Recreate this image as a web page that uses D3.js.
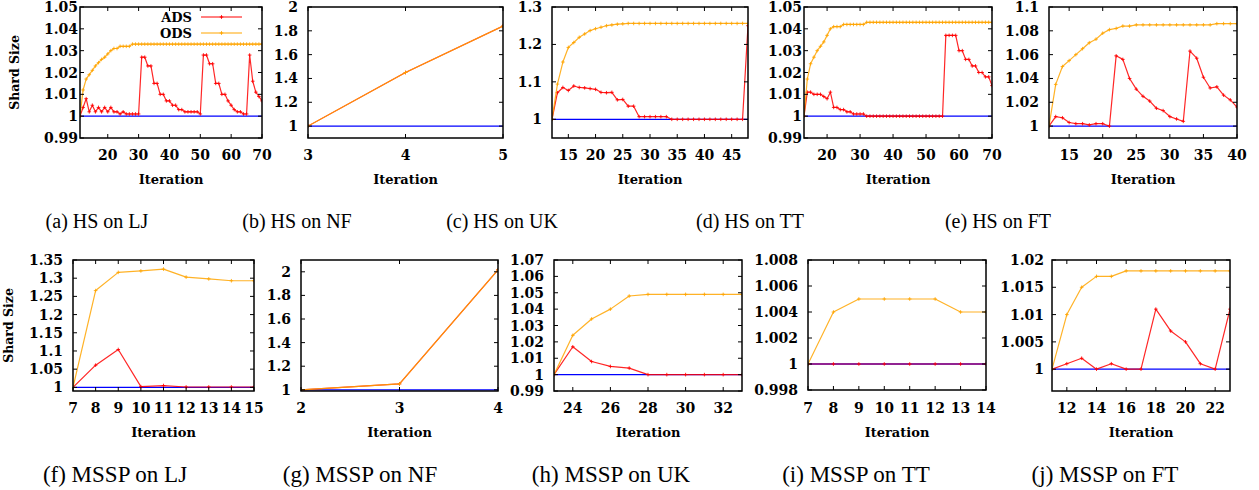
<!DOCTYPE html>
<html><head><meta charset="utf-8">
<script src="https://cdn.jsdelivr.net/npm/d3@7"></script>
<style>body{margin:0;background:#fff}svg{display:block}</style>
</head><body>
<svg id="chart" width="1259" height="490"></svg>
<script>
// ---------------- DATA ----------------
const seriesNames = ["ADS", "ODS"];
const optimal = 1;
const captions = ["(a) HS on LJ","(b) HS on NF","(c) HS on UK","(d) HS on TT","(e) HS on FT",
                  "(f) MSSP on LJ","(g) MSSP on NF","(h) MSSP on UK","(i) MSSP on TT","(j) MSSP on FT"];

// (a) HS on LJ, iterations 11..70
const hsLjStart = 11;
const hsLjADS = [1.000,1.004,1.008,1.002,1.005,1.002,1.004,1.002,1.004,1.002,
                 1.004,1.002,1.002,1.001,1.002,1.001,1.001,1.001,1.001,1.001,
                 1.027,1.027,1.023,1.023,1.015,1.015,1.010,1.010,1.007,1.007,
                 1.005,1.005,1.003,1.003,1.002,1.002,1.002,1.002,1.002,1.001,
                 1.028,1.028,1.024,1.024,1.015,1.015,1.010,1.010,1.007,1.005,
                 1.003,1.002,1.002,1.001,1.001,1.028,1.016,1.011,1.009,1.007];
const hsLjODS = [1.000,1.012,1.017,1.019,1.021,1.023,1.0245,1.026,1.027,1.0285,
                 1.030,1.031,1.031,1.032,1.032,1.032,1.032,1.033,1.033,1.033,
                 1.033,1.033,1.033,1.033,1.033,1.033,1.033,1.033,1.033,1.033,
                 1.033,1.033,1.033,1.033,1.033,1.033,1.033,1.033,1.033,1.033,
                 1.033,1.033,1.033,1.033,1.033,1.033,1.033,1.033,1.033,1.033,
                 1.033,1.033,1.033,1.033,1.033,1.033,1.033,1.033,1.033,1.033];
const hsLjYTicks = [0.99,1,1.01,1.02,1.03,1.04,1.05];
const hsLjXTicks = [20,30,40,50,60,70];

// (b) HS on NF, iterations 3..5
const hsNfStart = 3;
const hsNfADS = [1.0,1.45,1.84];
const hsNfODS = [1.0,1.45,1.84];
const hsNfYTicks = [1,1.2,1.4,1.6,1.8,2];
const hsNfXTicks = [3,4,5];

// (c) HS on UK, iterations 12..48
const hsUkStart = 12;
const hsUkADS = [1.000,1.071,1.085,1.077,1.089,1.085,1.084,1.082,1.080,1.072,
                 1.071,1.072,1.052,1.053,1.035,1.035,1.007,1.007,1.007,1.007,
                 1.007,1.007,1.000,1.000,1.000,1.000,1.000,1.000,1.000,1.000,
                 1.000,1.000,1.000,1.000,1.000,1.000,1.250];
const hsUkODS = [1.000,1.094,1.153,1.192,1.205,1.219,1.228,1.237,1.242,1.246,
                 1.250,1.252,1.254,1.255,1.256,1.256,1.256,1.256,1.256,1.256,
                 1.256,1.256,1.256,1.256,1.256,1.256,1.256,1.256,1.256,1.256,
                 1.256,1.256,1.256,1.256,1.256,1.256,1.256];
const hsUkYTicks = [1,1.1,1.2,1.3];
const hsUkXTicks = [15,20,25,30,35,40,45];

// (d) HS on TT, iterations 13..70
const hsTtStart = 13;
const hsTtADS = [1.000,1.011,1.011,1.010,1.010,1.010,1.009,1.008,1.011,1.004,
                 1.004,1.003,1.003,1.002,1.002,1.001,1.001,1.001,1.001,1.000,
                 1.000,1.000,1.000,1.000,1.000,1.000,1.000,1.000,1.000,1.000,
                 1.000,1.000,1.000,1.000,1.000,1.000,1.000,1.000,1.000,1.000,
                 1.000,1.000,1.000,1.037,1.037,1.037,1.037,1.030,1.030,1.026,
                 1.026,1.023,1.023,1.020,1.020,1.018,1.018,1.014];
const hsTtODS = [1.000,1.017,1.024,1.027,1.030,1.032,1.034,1.037,1.040,1.041,
                 1.041,1.041,1.042,1.042,1.042,1.042,1.042,1.042,1.042,1.043,
                 1.043,1.043,1.043,1.043,1.043,1.043,1.043,1.043,1.043,1.043,
                 1.043,1.043,1.043,1.043,1.043,1.043,1.043,1.043,1.043,1.043,
                 1.043,1.043,1.043,1.043,1.043,1.043,1.043,1.043,1.043,1.043,
                 1.043,1.043,1.043,1.043,1.043,1.043,1.043,1.043];
const hsTtYTicks = [0.99,1,1.01,1.02,1.03,1.04,1.05];
const hsTtXTicks = [20,30,40,50,60,70];

// (e) HS on FT, iterations 12..40
const hsFtStart = 12;
const hsFtADS = [1.000,1.008,1.007,1.003,1.002,1.002,1.001,1.002,1.002,1.000,
                 1.059,1.056,1.040,1.031,1.025,1.021,1.015,1.013,1.008,1.006,
                 1.004,1.063,1.057,1.041,1.032,1.033,1.026,1.022,1.016];
const hsFtODS = [1.000,1.035,1.050,1.055,1.060,1.065,1.070,1.073,1.078,1.081,
                 1.082,1.084,1.084,1.085,1.085,1.085,1.085,1.085,1.085,1.085,
                 1.085,1.085,1.085,1.085,1.085,1.086,1.086,1.086,1.086];
const hsFtYTicks = [1,1.02,1.04,1.06,1.08,1.1];
const hsFtXTicks = [15,20,25,30,35,40];

// (f) MSSP on LJ, iterations 7..15
const msspLjStart = 7;
const msspLjADS = [1.000,1.061,1.104,1.002,1.005,1.001,1.001,1.001,1.001];
const msspLjODS = [1.000,1.266,1.316,1.320,1.325,1.303,1.298,1.293,1.293];
const msspLjYTicks = [1,1.05,1.1,1.15,1.2,1.25,1.3,1.35];
const msspLjXTicks = [7,8,9,10,11,12,13,14,15];

// (g) MSSP on NF, iterations 2..4
const msspNfStart = 2;
const msspNfADS = [1.000,1.050,2.017];
const msspNfODS = [1.000,1.050,2.017];
const msspNfYTicks = [1,1.2,1.4,1.6,1.8,2];
const msspNfXTicks = [2,3,4];

// (h) MSSP on UK, iterations 23..33
const msspUkStart = 23;
const msspUkADS = [1.000,1.017,1.008,1.005,1.004,1.000,1.000,1.000,1.000,1.000,1.000];
const msspUkODS = [1.000,1.024,1.034,1.040,1.048,1.049,1.049,1.049,1.049,1.049,1.049];
const msspUkYTicks = [0.99,1,1.01,1.02,1.03,1.04,1.05,1.06,1.07];
const msspUkXTicks = [24,26,28,30,32];

// (i) MSSP on TT, iterations 7..14
const msspTtStart = 7;
const msspTtADS = [1.000,1.000,1.000,1.000,1.000,1.000,1.000,1.000];
const msspTtODS = [1.000,1.004,1.005,1.005,1.005,1.005,1.004,1.004];
const msspTtYTicks = [0.998,1,1.002,1.004,1.006,1.008];
const msspTtXTicks = [7,8,9,10,11,12,13,14];

// (j) MSSP on FT, iterations 11..23
const msspFtStart = 11;
const msspFtADS = [1.000,1.001,1.002,1.000,1.001,1.000,1.000,1.011,1.007,1.005,1.001,1.000,1.011];
const msspFtODS = [1.000,1.010,1.015,1.017,1.017,1.018,1.018,1.018,1.018,1.018,1.018,1.018,1.018];
const msspFtYTicks = [1,1.005,1.01,1.015,1.02];
const msspFtXTicks = [12,14,16,18,20,22];

// ---------------- LAYOUT ----------------
const panels = [
  {start:hsLjStart, ads:hsLjADS, ods:hsLjODS, yd:[0.99,1.05], yt:hsLjYTicks, xt:hsLjXTicks, box:[80,7,262,138], gap:2, cap:captions[0], capX:97, row:0, ylab:true, legend:true},
  {start:hsNfStart, ads:hsNfADS, ods:hsNfODS, yd:[0.9,2.0], yt:hsNfYTicks, xt:hsNfXTicks, box:[308,7,503,138], gap:10, cap:captions[1], capX:297, row:0},
  {start:hsUkStart, ads:hsUkADS, ods:hsUkODS, yd:[0.95,1.3], yt:hsUkYTicks, xt:hsUkXTicks, box:[552,7,748,138], gap:10, cap:captions[2], capX:502, row:0},
  {start:hsTtStart, ads:hsTtADS, ods:hsTtODS, yd:[0.99,1.05], yt:hsTtYTicks, xt:hsTtXTicks, box:[804,7,992,138], gap:2, cap:captions[3], capX:750, row:0},
  {start:hsFtStart, ads:hsFtADS, ods:hsFtODS, yd:[0.99,1.1], yt:hsFtYTicks, xt:hsFtXTicks, box:[1049,7,1237,138], gap:10, cap:captions[4], capX:998, row:0},
  {start:msspLjStart, ads:msspLjADS, ods:msspLjODS, yd:[0.99,1.35], yt:msspLjYTicks, xt:msspLjXTicks, box:[73,260,254,391], gap:10, cap:captions[5], capX:115, row:1, ylab:true},
  {start:msspNfStart, ads:msspNfADS, ods:msspNfODS, yd:[0.99,2.1], yt:msspNfYTicks, xt:msspNfXTicks, box:[301,260,498,391], gap:10, cap:captions[6], capX:360, row:1},
  {start:msspUkStart, ads:msspUkADS, ods:msspUkODS, yd:[0.99,1.07], yt:msspUkYTicks, xt:msspUkXTicks, box:[554,260,742,391], gap:10, cap:captions[7], capX:611, row:1},
  {start:msspTtStart, ads:msspTtADS, ods:msspTtODS, yd:[0.998,1.008], yt:msspTtYTicks, xt:msspTtXTicks, box:[808,260,986,390], gap:10, cap:captions[8], capX:856, row:1},
  {start:msspFtStart, ads:msspFtADS, ods:msspFtODS, yd:[0.996,1.02], yt:msspFtYTicks, xt:msspFtXTicks, box:[1052,260,1230,391], gap:8, cap:captions[9], capX:1105, row:1}
];

const svg = d3.select("#chart");
const numFont = "'DejaVu Serif', serif";
const capFont = "'Liberation Serif', 'Times New Roman', serif";
const colors = {ADS:"#ff0000", ODS:"#ffa500", base:"#0000ff"};

panels.forEach((p, idx) => {
  const [L, T, R, B] = p.box;
  const n = p.ads.length;
  const x = d3.scaleLinear().domain([p.start, p.start + n - 1]).range([L, R]);
  const y = d3.scaleLinear().domain(p.yd).range([B, T]);
  const g = svg.append("g");
  const clipId = "clip" + idx;
  svg.append("clipPath").attr("id", clipId).append("rect")
    .attr("x", L).attr("y", T).attr("width", R - L).attr("height", B - T);

  const plot = g.append("g").attr("clip-path", `url(#${clipId})`);
  plot.append("line").attr("x1", x(p.start)).attr("x2", x(p.start + n - 1))
    .attr("y1", y(optimal)).attr("y2", y(optimal))
    .attr("stroke", colors.base).attr("stroke-width", 1.3);

  const line = d3.line().x((d, i) => x(p.start + i)).y(d => y(d));
  [["ADS", p.ads, 0.85], ["ODS", p.ods, 0.85]].forEach(([name, vals, op]) => {
    plot.append("path").attr("d", line(vals)).attr("fill", "none")
      .attr("stroke", colors[name]).attr("stroke-width", 1.2).attr("stroke-opacity", op)
      .attr("stroke-linejoin", "round");
    plot.append("g").selectAll("path").data(vals).join("path")
      .attr("d", (d, i) => {
        const cx = x(p.start + i), cy = y(d), s = 1.8;
        return `M${cx - s},${cy}H${cx + s}M${cx},${cy - s}V${cy + s}`;
      })
      .attr("stroke", colors[name]).attr("stroke-width", 1).attr("stroke-opacity", op);
  });

  const tl = 4;
  const ax = g.append("g");
  p.yt.forEach(v => {
    const yy = y(v);
    ax.append("line").attr("x1", L).attr("x2", L + tl).attr("y1", yy).attr("y2", yy).attr("stroke", "#000");
    ax.append("line").attr("x1", R).attr("x2", R - tl).attr("y1", yy).attr("y2", yy).attr("stroke", "#000");
    ax.append("text").attr("x", L - p.gap).attr("y", yy).attr("dy", "0.36em")
      .attr("text-anchor", "end").attr("font-family", numFont).attr("font-weight", "bold")
      .attr("font-size", 14).text(String(v));
  });
  const tickY = p.row === 0 ? 160 : 413;
  p.xt.forEach(v => {
    const xx = x(v);
    ax.append("line").attr("x1", xx).attr("x2", xx).attr("y1", B).attr("y2", B - tl).attr("stroke", "#000");
    ax.append("line").attr("x1", xx).attr("x2", xx).attr("y1", T).attr("y2", T + tl).attr("stroke", "#000");
    ax.append("text").attr("x", xx).attr("y", tickY).attr("text-anchor", "middle")
      .attr("font-family", numFont).attr("font-weight", "bold").attr("font-size", 14).text(String(v));
  });
  g.append("rect").attr("x", L).attr("y", T).attr("width", R - L).attr("height", B - T)
    .attr("fill", "none").attr("stroke", "#000").attr("stroke-width", 1.5);

  g.append("text").attr("x", (L + R) / 2).attr("y", p.row === 0 ? 184 : 437)
    .attr("text-anchor", "middle").attr("font-family", numFont).attr("font-weight", "bold")
    .attr("font-size", 13).text("Iteration");

  if (p.ylab) {
    const cy = (T + B) / 2;
    const cx = p.row === 0 ? 15 : 9;
    g.append("text").attr("transform", `translate(${cx + 4},${cy}) rotate(-90)`)
      .attr("text-anchor", "middle").attr("font-family", numFont).attr("font-weight", "bold")
      .attr("font-size", 12.5).text("Shard Size");
  }

  g.append("text").attr("x", p.capX).attr("y", p.row === 0 ? 228 : 482)
    .attr("text-anchor", "middle").attr("font-family", capFont)
    .attr("font-size", p.row === 0 ? 20 : 23).text(p.cap);

  if (p.legend) {
    seriesNames.forEach((name, k) => {
      const ly = 17 + k * 16;
      g.append("text").attr("x", 192).attr("y", ly).attr("dy", "0.36em").attr("text-anchor", "end")
        .attr("font-family", numFont).attr("font-weight", "bold").attr("font-size", 13).text(name);
      g.append("line").attr("x1", 201).attr("x2", 242).attr("y1", ly).attr("y2", ly)
        .attr("stroke", colors[name]).attr("stroke-width", 1.2);
      g.append("path").attr("d", `M219.7,${ly}H223.3M221.5,${ly - 1.8}V${ly + 1.8}`)
        .attr("stroke", colors[name]).attr("stroke-width", 1);
    });
  }
});
</script>
</body></html>
